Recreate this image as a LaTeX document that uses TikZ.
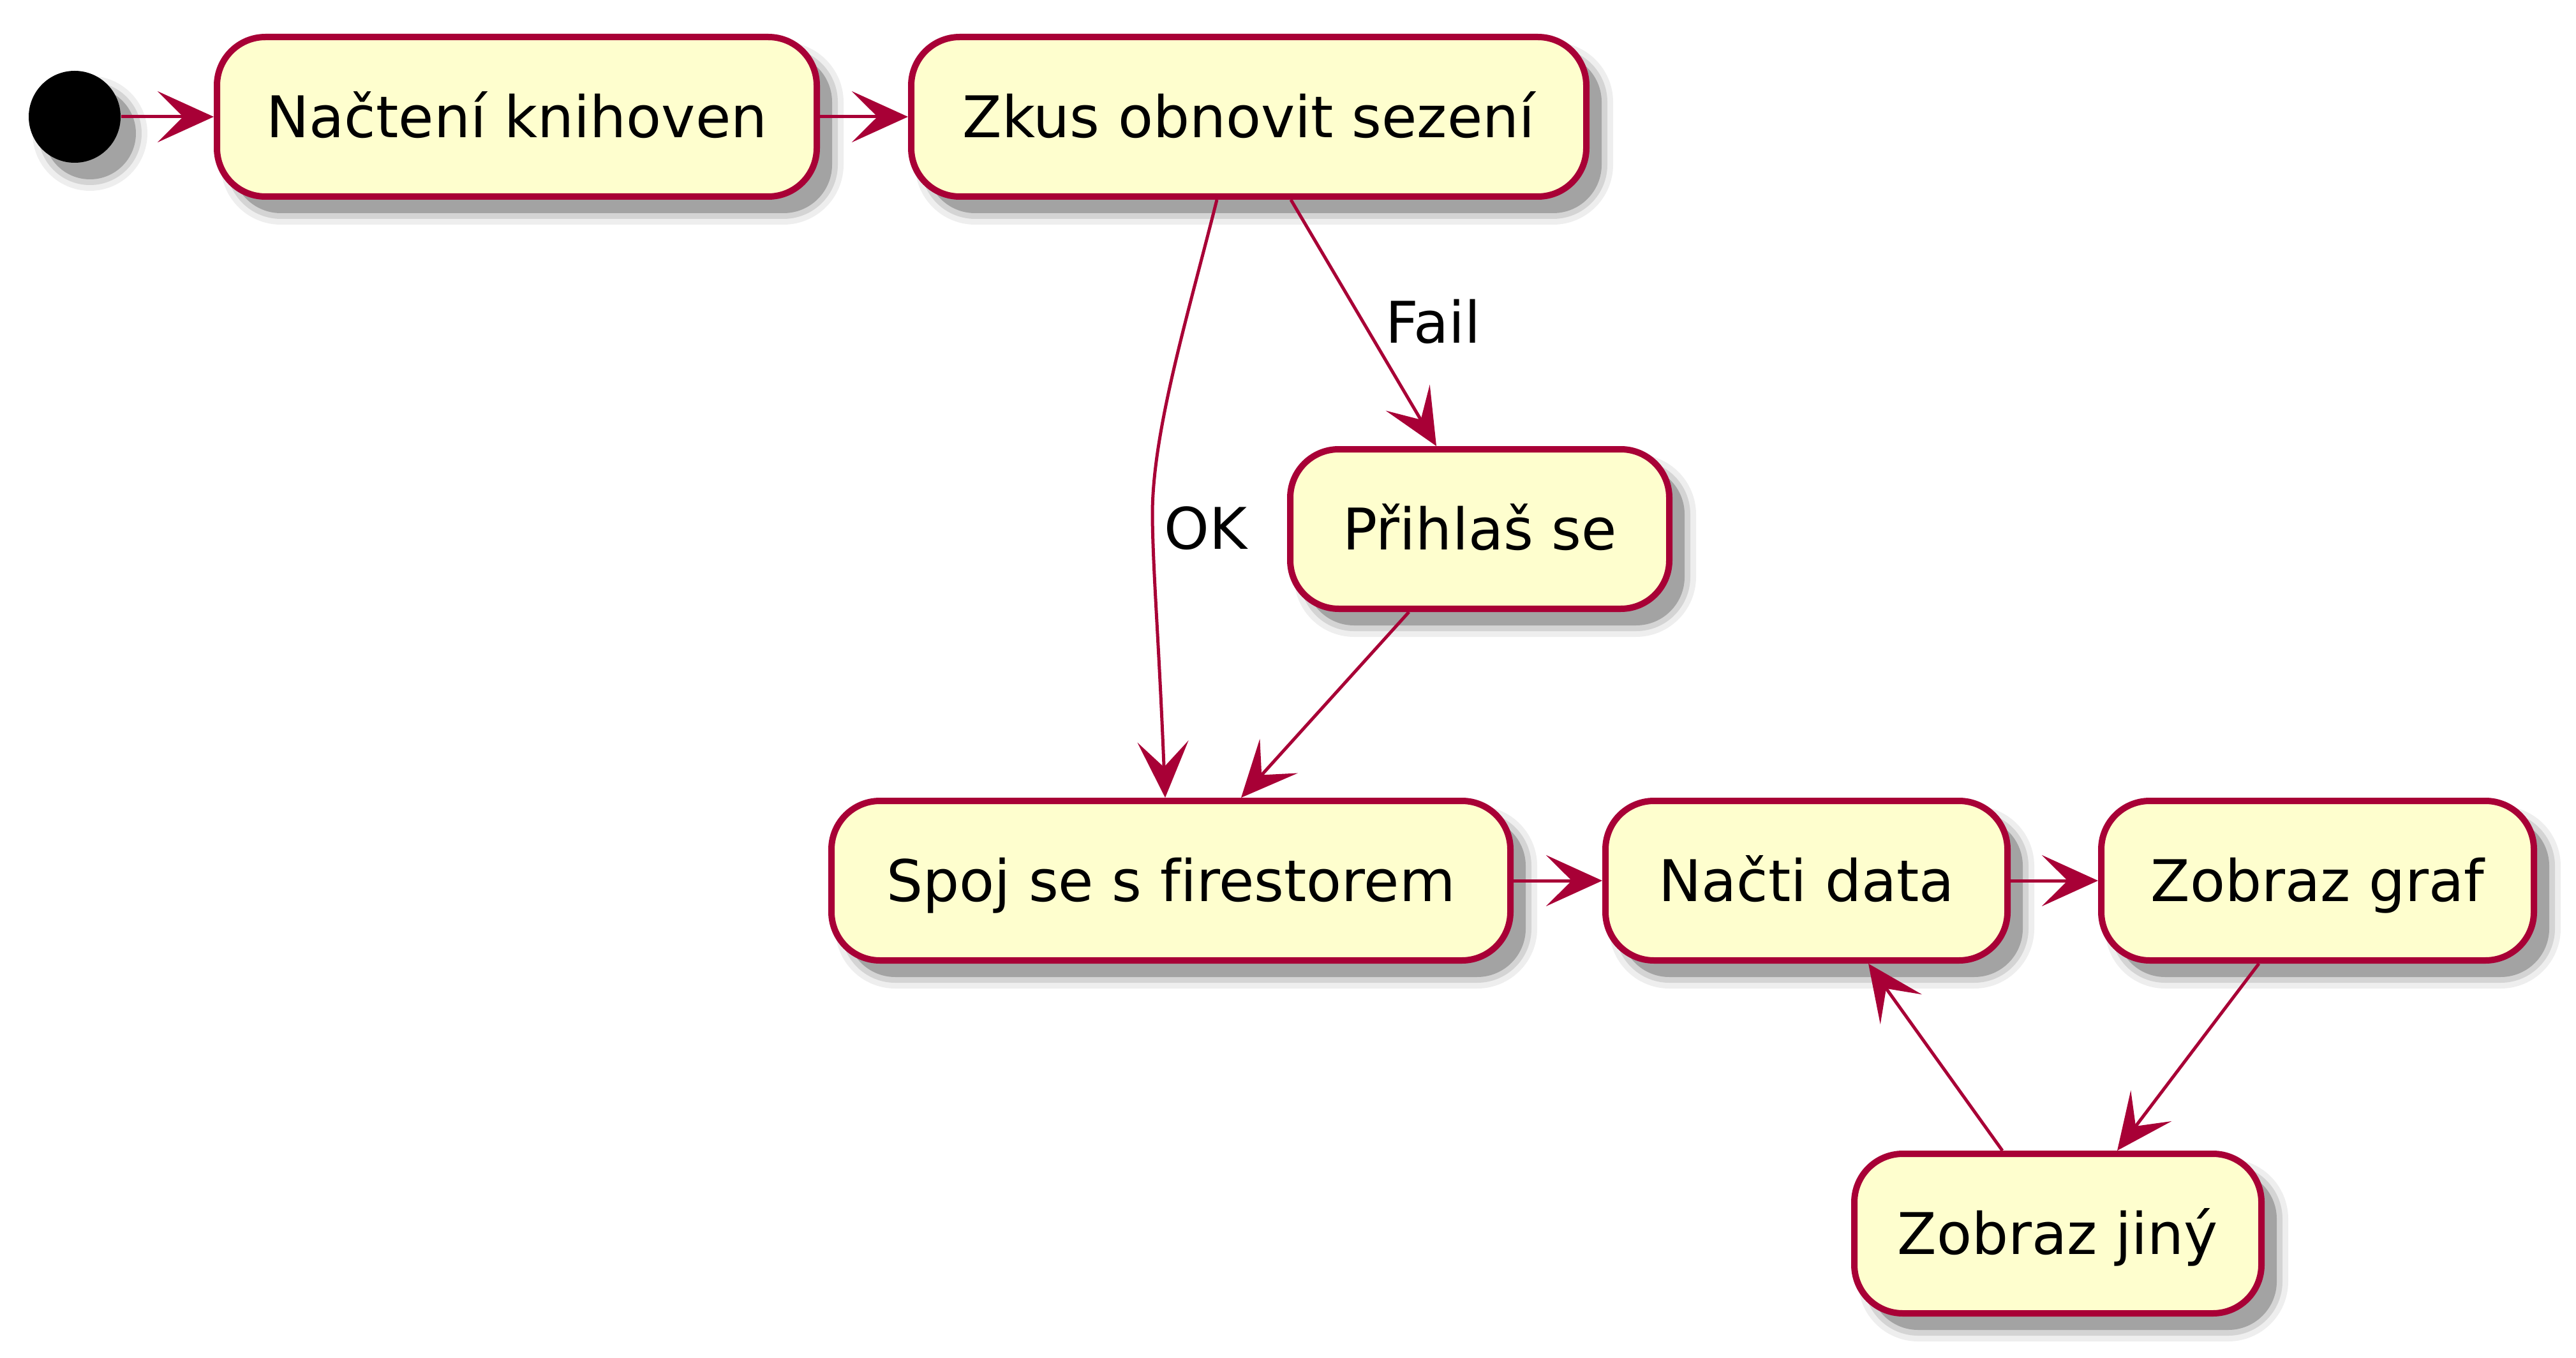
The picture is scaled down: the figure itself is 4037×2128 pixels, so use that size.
\documentclass[tikz,border=0pt]{standalone}
\usepackage{fontspec}
\setmainfont{DejaVu Sans}[Ligatures={NoCommon}]
\usetikzlibrary{arrows.meta,shadows}
\definecolor{umlborder}{HTML}{A80036}
\definecolor{umlfill}{HTML}{FEFECE}
\definecolor{shadowc}{RGB}{163,163,163}
\tikzset{
  shad/.style={
    general shadow={draw=shadowc, line width=9pt, opacity=0.18, shadow xshift=6pt, shadow yshift=-6.5pt},
    general shadow={draw=shadowc, line width=4.5pt, opacity=0.35, shadow xshift=6pt, shadow yshift=-6.5pt},
    general shadow={fill=shadowc, shadow xshift=6pt, shadow yshift=-6.5pt}},
  actbox/.style={shad, draw=umlborder, fill=umlfill, line width=2.5pt, rounded corners=19pt,
    minimum height=62.5pt, inner sep=0pt, text height=16.4pt, text depth=0pt,
    font=\fontsize{22.5pt}{27pt}\selectfont},
  startnode/.style={shad, circle, fill=black, minimum size=36pt, inner sep=0pt},
  arr/.style={draw=umlborder, line width=1.25pt, line join=miter,
    -{Stealth[length=22pt, width=20pt, inset=10pt]}},
  lbl/.style={font=\fontsize{22.5pt}{27pt}\selectfont, inner sep=0pt, anchor=base west}
}
\begin{document}
\begin{tikzpicture}[x=0.25pt, y=-0.25pt]
\useasboundingbox (0,0) rectangle (4037,2128);
\node[startnode] (start) at (117,183) {};
\node[actbox, minimum width=235pt] (n1) at (810,183) {Načtení knihoven};
\node[actbox, minimum width=264.5pt] (n2) at (1957,183) {Zkus obnovit sezení};
\node[actbox, minimum width=148.5pt] (n3) at (2319,829) {Přihlaš se};
\node[actbox, minimum width=266pt] (n4) at (1835,1380) {Spoj se s firestorem};
\node[actbox, minimum width=157.5pt] (n5) at (2831,1380) {Načti data};
\node[actbox, minimum width=169.5pt] (n6) at (3632,1380) {Zobraz graf};
\node[actbox, minimum width=159.5pt] (n7) at (3225,1933) {Zobraz jiný};
\node[lbl] (fail) at (2171,538) {Fail};
\node[lbl] (ok) at (1824,860) {OK};

\draw[arr] (start) -- (n1);
\draw[arr] (n1) -- (n2);
\draw[arr] ([xshift=16.5pt]n2.south) -- ([xshift=-17pt]n3.north);
\draw[arr] ([xshift=-12.5pt]n2.south) .. controls (1860,500) and (1805,680) .. (1806,810)
   .. controls (1807,900) and (1816,1000) .. ([xshift=-2.25pt]n4.north);
\draw[arr] ([xshift=-27.75pt]n3.south) -- ([xshift=27.5pt]n4.north);
\draw[arr] (n4) -- (n5);
\draw[arr] (n5) -- (n6);
\draw[arr] ([xshift=-23pt]n6.south) -- ([xshift=23.25pt]n7.north);
\draw[arr] ([xshift=-21.75pt]n7.north) -- ([xshift=24.25pt]n5.south);
\end{tikzpicture}
\end{document}
